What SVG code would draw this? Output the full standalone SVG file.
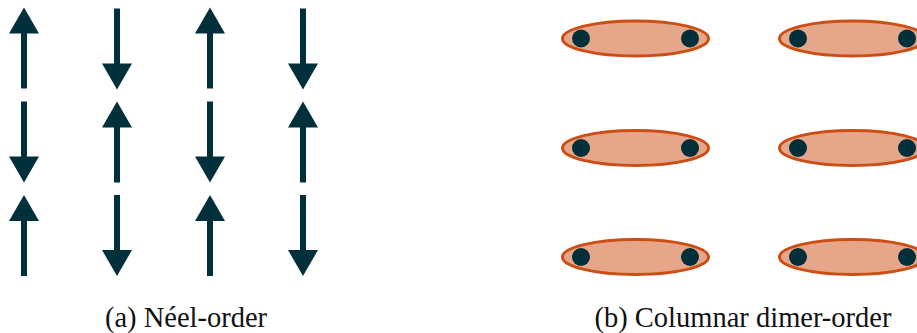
<svg xmlns="http://www.w3.org/2000/svg" width="917" height="333" viewBox="0 0 917 333">
<defs>
<style>
.shaft{stroke:#01303a;stroke-width:6;fill:none}
.head{fill:#01303a}
.dimer{fill:#e6a68a;stroke:#cc4e14;stroke-width:3}
.site{fill:#01303a}
.lbl{font-size:28.5px;fill:#111;text-anchor:middle}
</style>
<g id="up"><line class="shaft" x1="0" y1="24" x2="0" y2="81"/><polygon class="head" points="0,0 15,26 -15,26"/></g>
<g id="down"><line class="shaft" x1="0" y1="0" x2="0" y2="57"/><polygon class="head" points="0,81 15,55 -15,55"/></g>
<g id="dim"><ellipse class="dimer" cx="0" cy="0" rx="73" ry="17.5"/><circle class="site" cx="-54.5" cy="0" r="9"/><circle class="site" cx="54.5" cy="0" r="9"/></g>
</defs>
<g id="neel">
<g id="a-r1c1"><use href="#up" x="24" y="7.5"/></g>
<g id="a-r1c2"><use href="#down" x="117" y="8.5"/></g>
<g id="a-r1c3"><use href="#up" x="210" y="7.5"/></g>
<g id="a-r1c4"><use href="#down" x="303" y="8.5"/></g>
<g id="a-r2c1"><use href="#down" x="24" y="101.5"/></g>
<g id="a-r2c2"><use href="#up" x="117" y="101.5"/></g>
<g id="a-r2c3"><use href="#down" x="210" y="101.5"/></g>
<g id="a-r2c4"><use href="#up" x="303" y="101.5"/></g>
<g id="a-r3c1"><use href="#up" x="24" y="195"/></g>
<g id="a-r3c2"><use href="#down" x="117" y="195"/></g>
<g id="a-r3c3"><use href="#up" x="210" y="195"/></g>
<g id="a-r3c4"><use href="#down" x="303" y="195"/></g>
</g>
<g id="dimers">
<g id="b-r1c1"><use href="#dim" x="635.5" y="38.5"/></g>
<g id="b-r1c2"><use href="#dim" x="852.5" y="38.5"/></g>
<g id="b-r2c1"><use href="#dim" x="635.5" y="148"/></g>
<g id="b-r2c2"><use href="#dim" x="852.5" y="148"/></g>
<g id="b-r3c1"><use href="#dim" x="635.5" y="257"/></g>
<g id="b-r3c2"><use href="#dim" x="852.5" y="257"/></g>
</g>
<g id="connectors"/>
<g id="labels" font-family="'Liberation Serif', 'DejaVu Serif', serif">
<text class="lbl" x="186" y="327">(a) Néel-order</text>
<text class="lbl" x="743" y="327">(b) Columnar dimer-order</text>
</g>
</svg>
